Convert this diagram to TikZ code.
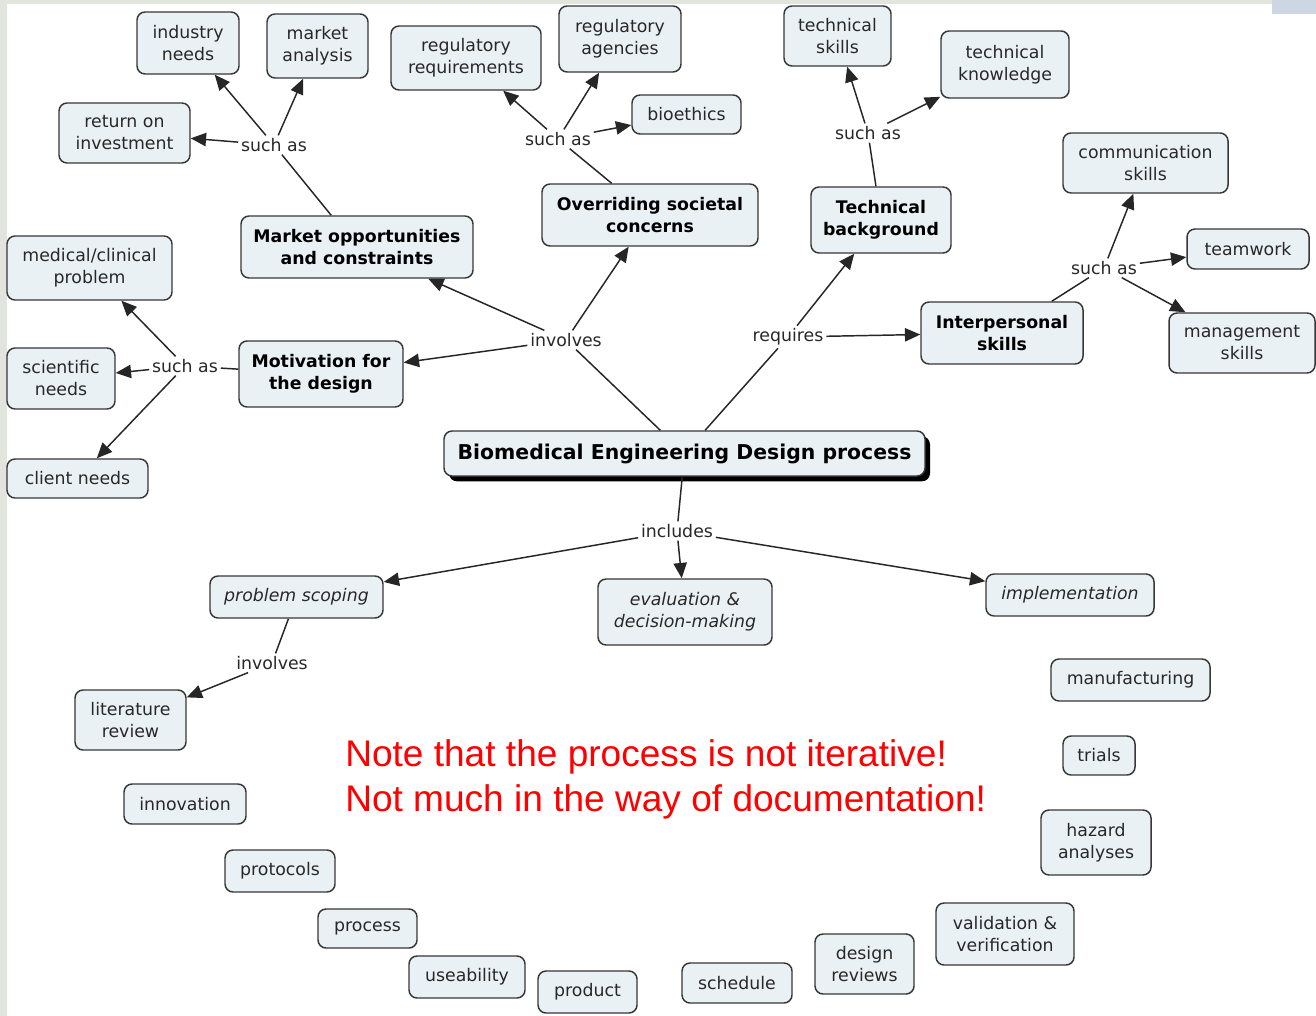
\documentclass[tikz,border=0pt]{standalone}
\usepackage{fontspec}
\setmainfont{DejaVu Sans}[ItalicFont={DejaVu Sans Oblique},BoldFont={DejaVu Sans Bold}]
\newfontfamily\notefont{Liberation Sans}
\usetikzlibrary{arrows.meta,shadows}
\definecolor{boxfill}{RGB}{234,241,245}
\definecolor{boxline}{RGB}{55,55,55}
\definecolor{inkgray}{RGB}{40,40,40}
\definecolor{edgegray}{RGB}{226,229,222}
\definecolor{edgeblue}{RGB}{205,215,228}
\begin{document}
\begin{tikzpicture}[x=0.75pt,y=-0.75pt,
  wh/.style 2 args={minimum width=#1*0.75pt,minimum height=#2*0.75pt},
  concept/.style={draw=boxline,line width=1.1pt,fill=boxfill,rounded corners=6pt,
    inner sep=0pt,align=center,text=inkgray,font=\fontsize{13}{16.5}\selectfont},
  keyconcept/.style={concept,text=black,font=\fontsize{13}{16.5}\selectfont\bfseries},
  phase/.style={concept,font=\fontsize{13}{16.5}\selectfont\itshape},
  linkword/.style={inner sep=2pt,text=inkgray,font=\fontsize{13}{16.5}\selectfont},
  link/.style={draw=black!85,line width=1.1pt},
  arr/.style={link,-{Triangle[length=11.5pt,width=10pt]}}]
\useasboundingbox (0,0) rectangle (1316,1016);
\fill[white] (0,0) rectangle (1316,1016);
\fill[edgegray] (0,0) rectangle (7,1016);
\fill[edgegray] (0,0) rectangle (1316,4);
\fill[edgeblue] (1272,0) rectangle (1316,14);

% central concept
\node[concept,text=black,font=\fontsize{15.3}{18}\selectfont\bfseries,wh={481}{45},
  drop shadow={shadow xshift=3.75pt,shadow yshift=-4pt,fill=black,opacity=1}]
  (bme) at (684.5,453.5) {Biomedical Engineering Design process};

% main branches
\node[keyconcept,wh={232}{62}] (mkt) at (357,247) {Market opportunities\\and constraints};
\node[keyconcept,wh={216}{62}] (osc) at (650,215) {Overriding societal\\concerns};
\node[keyconcept,wh={140}{66}] (tbg) at (881,220) {Technical\\background};
\node[keyconcept,wh={162}{62}] (ips) at (1002,333) {Interpersonal\\skills};
\node[keyconcept,wh={164}{66}] (mot) at (321,374) {Motivation for\\the design};

% market examples
\node[concept,wh={102}{62}] (ind) at (188,43) {industry\\needs};
\node[concept,wh={101}{64}] (mka) at (317.5,46) {market\\analysis};
\node[concept,wh={131}{60}] (roi) at (124.5,133) {return on\\investment};

% societal examples
\node[concept,wh={150}{64}] (rreq) at (466,58) {regulatory\\requirements};
\node[concept,wh={122}{66}] (rag) at (620,39) {regulatory\\agencies};
\node[concept,wh={109}{39}] (bio) at (686.5,114.5) {bioethics};

% technical examples
\node[concept,wh={107}{60}] (tsk) at (837.5,36) {technical\\skills};
\node[concept,wh={128}{67}] (tkn) at (1005,64.5) {technical\\knowledge};

% interpersonal examples
\node[concept,wh={165}{60}] (com) at (1145.5,163) {communication\\skills};
\node[concept,wh={122}{40}] (team) at (1248,249) {teamwork};
\node[concept,wh={146}{60}] (mgt) at (1242,343) {management\\skills};

% motivation examples
\node[concept,wh={165}{64}] (med) at (89.5,268) {medical/clinical\\problem};
\node[concept,wh={108}{61}] (sci) at (61,378.5) {scientific\\needs};
\node[concept,wh={141}{39}] (cli) at (77.5,478.5) {client needs};

% design phases
\node[phase,wh={173}{42}] (ps) at (296.5,597) {problem scoping};
\node[phase,wh={174}{66}] (ev) at (685,612) {evaluation \&\\decision-making};
\node[phase,wh={168}{42}] (imp) at (1070,595) {implementation};
\node[concept,wh={111}{60}] (lit) at (130.5,720) {literature\\review};

% loose concepts
\node[concept,wh={159}{42}] (man) at (1130.5,680) {manufacturing};
\node[concept,wh={72}{39}] (tri) at (1099,755.5) {trials};
\node[concept,wh={110}{65}] (haz) at (1096,842.5) {hazard\\analyses};
\node[concept,wh={138}{62}] (val) at (1005,934) {validation \&\\verification};
\node[concept,wh={99}{60}] (drv) at (864.5,964) {design\\reviews};
\node[concept,wh={110}{40}] (sch) at (737,983) {schedule};
\node[concept,wh={99}{42}] (prod) at (587.5,992) {product};
\node[concept,wh={116}{42}] (use) at (467,977) {useability};
\node[concept,wh={99}{39}] (proc) at (367.5,928.5) {process};
\node[concept,wh={110}{42}] (prot) at (280,871) {protocols};
\node[concept,wh={122}{40}] (inn) at (185,804) {innovation};

% linking phrases
\node[linkword] (sa1) at (274,145) {such as};
\node[linkword] (sa2) at (558,139) {such as};
\node[linkword] (sa3) at (868,133) {such as};
\node[linkword] (sa4) at (1104,268) {such as};
\node[linkword] (sa5) at (185,366) {such as};
\node[linkword] (inv1) at (566,340) {involves};
\node[linkword] (req) at (788,337) {requires};
\node[linkword] (inc) at (677,531) {includes};
\node[linkword] (inv2) at (272,663) {involves};

% connections
\draw[link] (bme) -- (inv1);
\draw[arr] (inv1) -- (osc);
\draw[arr] (inv1) -- (mkt);
\draw[arr] (inv1) -- (mot);
\draw[link] (bme) -- (req);
\draw[arr] (req) -- (tbg);
\draw[arr] (req) -- (ips);
\draw[link] (bme) -- (inc);
\draw[arr] (inc) -- (ps);
\draw[arr] (inc) -- (ev);
\draw[arr] (inc) -- (imp);

\draw[link] (mkt) -- (sa1);
\draw[arr] (sa1) -- (ind);
\draw[arr] (sa1) -- (mka);
\draw[arr] (sa1) -- (roi);

\draw[link] (osc) -- (sa2);
\draw[arr] (sa2) -- (rreq);
\draw[arr] (sa2) -- (rag);
\draw[arr] (sa2) -- (bio);

\draw[link] (tbg) -- (sa3);
\draw[arr] (sa3) -- (tsk);
\draw[arr] (sa3) -- (tkn);

\draw[link] (ips) -- (sa4);
\draw[arr] (sa4) -- (com);
\draw[arr] (sa4) -- (team);
\draw[arr] (sa4) -- (mgt);

\draw[link] (mot) -- (sa5);
\draw[arr] (sa5) -- (med);
\draw[arr] (sa5) -- (sci);
\draw[arr] (sa5) -- (cli);

\draw[link] (ps) -- (inv2);
\draw[arr] (inv2) -- (lit);

% remark (base anchor sits on the last line)
\node[anchor=base west,align=left,inner sep=0pt,text=red,
  font=\notefont\fontsize{27.8}{33.75}\selectfont] (note) at (345,811)
  {Note that the process is not iterative!\\Not much in the way of documentation!};
\end{tikzpicture}
\end{document}
